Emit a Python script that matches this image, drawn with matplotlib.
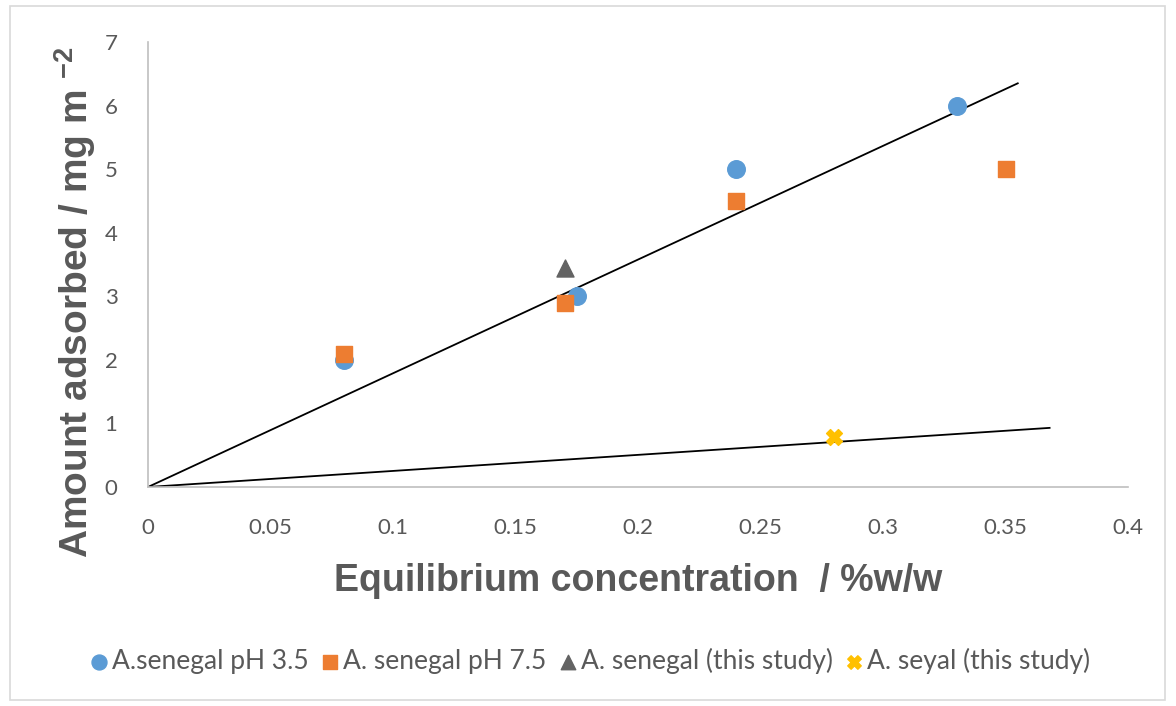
import matplotlib
matplotlib.use('Agg')
import matplotlib.pyplot as plt
from matplotlib.patches import Rectangle

# data
ph35_x = [0.08, 0.175, 0.24, 0.33]
ph35_y = [2.0, 3.0, 5.0, 6.0]
ph75_x = [0.08, 0.17, 0.24, 0.35]
ph75_y = [2.1, 2.9, 4.5, 5.0]
senegal_x = [0.17]
senegal_y = [3.45]
seyal_x = [0.28]
seyal_y = [0.78]

# trend lines (through origin)
trend1_x = [0, 0.355]
trend1_y = [0, 6.35]
trend2_x = [0, 0.368]
trend2_y = [0, 0.93]

xticks = [0, 0.05, 0.1, 0.15, 0.2, 0.25, 0.3, 0.35, 0.4]
xticklabels = ['0', '0.05', '0.1', '0.15', '0.2', '0.25', '0.3', '0.35', '0.4']
yticks = [0, 1, 2, 3, 4, 5, 6, 7]

plt.rcParams['font.family'] = ['Lato', 'DejaVu Sans']
plt.rcParams['mathtext.fontset'] = 'custom'
plt.rcParams['mathtext.bf'] = 'Liberation Sans:bold'
plt.rcParams['mathtext.rm'] = 'Liberation Sans'

fig = plt.figure(figsize=(11.76, 7.06), dpi=100)
ax = fig.add_axes([148 / 1176, 1 - 487 / 706, 980 / 1176, 445 / 706])

# chart border
fig.patches.append(Rectangle((10 / 1176, 6 / 706), 1155 / 1176, 694 / 706,
                             transform=fig.transFigure, fill=False,
                             edgecolor='#d9d9d9', linewidth=1.2))

ax.plot(trend1_x, trend1_y, color='black', linewidth=1.3, zorder=2)
ax.plot(trend2_x, trend2_y, color='black', linewidth=1.3, zorder=2)

ax.scatter(ph35_x, ph35_y, marker='o', s=160, color='#5b9bd5',
           label='A.senegal pH 3.5', zorder=3)
ax.scatter(ph75_x, ph75_y, marker='s', s=140, color='#ed7d31',
           label='A. senegal pH 7.5', zorder=4)
ax.scatter(senegal_x, senegal_y, marker='^', s=150, color='#636363',
           label='A. senegal (this study)', zorder=3)
ax.scatter(seyal_x, seyal_y, marker='X', s=130, color='#ffc000',
           label='A. seyal (this study)', zorder=3)

ax.set_xlim(0, 0.4)
ax.set_ylim(0, 7)
ax.set_xticks(xticks)
ax.set_xticklabels(xticklabels)
ax.set_yticks(yticks)
ax.tick_params(length=0, labelsize=16, labelcolor='#595959')
ax.tick_params(axis='x', pad=22)
ax.tick_params(axis='y', pad=22)

for s in ['top', 'right']:
    ax.spines[s].set_visible(False)
for s in ['left', 'bottom']:
    ax.spines[s].set_color('#bfbfbf')
    ax.spines[s].set_linewidth(1.2)

ax.set_xlabel('Equilibrium concentration  / %w/w', fontsize=27,
              fontweight='bold', color='#595959', family=['Liberation Sans', 'DejaVu Sans'],
              labelpad=18)
ax.set_ylabel(r'Amount adsorbed / mg m $^{\mathbf{-2}}$', fontsize=28,
              fontweight='bold', color='#595959', family=['Liberation Sans', 'DejaVu Sans'])
ax.yaxis.set_label_coords(-50 / 980, 0.415)

leg = fig.legend(loc='center', bbox_to_anchor=(0.5, 1 - 661 / 706), ncol=4,
                 frameon=False, fontsize=19, handletextpad=0.0,
                 columnspacing=0.3, handlelength=1.0, markerscale=0.85)
for t in leg.get_texts():
    t.set_color('#595959')

fig.savefig('out.png', dpi=100)
